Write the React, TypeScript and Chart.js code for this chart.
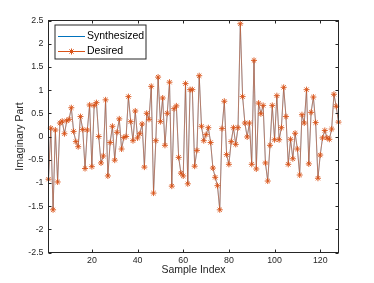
import React, { useEffect, useRef } from "react";
import { Chart, registerables } from "chart.js";

Chart.register(...registerables);

// ---- data ----
const seriesLabels = ["Synthesized", "Desired"];
const xTickValues = [20, 40, 60, 80, 100, 120];
const yTickStep = 0.5;
const xMin = 1;
const xMax = 128;
const yMin = -2.5;
const yMax = 2.5;

const desired = [
  -0.92, 0.18, -1.58, 0.14, -0.98, 0.29, 0.33, 0.06, 0.34, 0.37,
  0.62, 0.11, -0.11, -0.22, 0.43, 0.15, -0.69, 0.14, 0.68, -0.65,
  0.67, 0.73, 0.0, -0.57, -0.42, 0.79, -0.85, -0.13, 0.22, -0.51,
  0.09, 0.38, -0.27, -0.02, 0.0, 0.86, 0.32, -0.09, 0.55, -0.03,
  0.06, 0.27, -0.66, 0.5, 0.37, 1.08, -1.22, -0.09, 1.28, 0.32,
  0.83, -0.19, 0.5, 1.17, -1.07, 0.6, 0.66, -0.45, -0.79, -0.85,
  1.14, -1.02, 1.01, 1.01, -0.64, -0.3, 1.31, 0.22, -0.09, 0.04,
  0.19, -0.13, -0.68, -0.88, -1.06, -1.58, 0.17, 0.76, -0.39, -0.6,
  -0.11, 0.19, -0.17, 0.19, 2.43, 0.86, 0.29, -0.01, 0.29, -0.6,
  1.64, -0.7, 0.72, 0.49, 0.67, -0.57, -0.96, -0.19, 0.67, -0.07,
  0.88, -0.07, 0.19, 1.06, 0.43, -0.6, -0.06, -0.48, 0.07, -0.27,
  -0.83, 0.47, 0.29, 1.01, -0.59, 0.52, 0.85, 0.3, -0.9, -0.4,
  -0.03, 0.13, -0.03, -0.06, 0.16, 0.91, 0.65, 0.31,
];
// the synthesized curve lies exactly under the desired one
const synthesized = [...desired];

const FONT = "'Liberation Sans', Arial, Helvetica, sans-serif";
const AXIS_COLOR = "#262626";
const BLUE = "#0072BD";
const ORANGE = "#D95319";

const toPoints = (vals: number[]) => vals.map((v, i) => ({ x: i + 1, y: v }));

const framePlugin = {
  id: "matlabFrame",
  afterDraw(chart: any) {
    const ctx = chart.ctx as CanvasRenderingContext2D;
    const { left, right, top, bottom } = chart.chartArea;
    const xs = chart.scales.x;
    const ys = chart.scales.y;
    ctx.save();
    ctx.strokeStyle = AXIS_COLOR;
    ctx.lineWidth = 1;
    ctx.strokeRect(left, top, right - left, bottom - top);
    const tl = 3;
    ctx.beginPath();
    for (const t of xs.ticks) {
      const px = Math.round(xs.getPixelForValue(t.value)) + 0.5;
      ctx.moveTo(px, bottom);
      ctx.lineTo(px, bottom - tl);
      ctx.moveTo(px, top);
      ctx.lineTo(px, top + tl);
    }
    for (const t of ys.ticks) {
      const py = Math.round(ys.getPixelForValue(t.value)) + 0.5;
      ctx.moveTo(left, py);
      ctx.lineTo(left + tl, py);
      ctx.moveTo(right, py);
      ctx.lineTo(right - tl, py);
    }
    ctx.stroke();

    // legend box
    const bx = left + 6.5;
    const by = top + 4.5;
    const bw = 91;
    const bh = 34;
    ctx.fillStyle = "#ffffff";
    ctx.fillRect(bx, by, bw, bh);
    ctx.strokeStyle = AXIS_COLOR;
    ctx.lineWidth = 1;
    ctx.strokeRect(bx, by, bw, bh);
    const rows = [by + 11, by + 26];
    chart.data.datasets.forEach((ds: any, i: number) => {
      const y = Math.round(rows[i]) + 0.5;
      ctx.strokeStyle = ds.borderColor;
      ctx.lineWidth = 1;
      ctx.beginPath();
      ctx.moveTo(bx + 3, y);
      ctx.lineTo(bx + 30, y);
      ctx.stroke();
      if (ds.pointRadius > 0) {
        const cx = bx + 16.5;
        const r = ds.pointRadius;
        ctx.beginPath();
        for (let k = 0; k < 4; k++) {
          const a = (k * Math.PI) / 4;
          ctx.moveTo(cx - r * Math.cos(a), y - r * Math.sin(a));
          ctx.lineTo(cx + r * Math.cos(a), y + r * Math.sin(a));
        }
        ctx.stroke();
      }
      ctx.fillStyle = "#000000";
      ctx.font = `10.5px ${FONT}`;
      ctx.textBaseline = "middle";
      ctx.textAlign = "left";
      ctx.fillText(ds.label, bx + 32, y);
    });
    ctx.restore();
  },
};

export default function App() {
  const ref = useRef<HTMLCanvasElement | null>(null);
  useEffect(() => {
    if (!ref.current) return;
    const chart = new Chart(ref.current, {
      type: "line",
      data: {
        datasets: [
          {
            label: seriesLabels[0],
            data: toPoints(synthesized),
            borderColor: BLUE,
            backgroundColor: BLUE,
            borderWidth: 0.5,
            pointRadius: 0,
            tension: 0,
            order: 1,
            clip: 6,
          },
          {
            label: seriesLabels[1],
            data: toPoints(desired),
            borderColor: ORANGE,
            backgroundColor: ORANGE,
            borderWidth: 0.6,
            pointStyle: "star",
            pointRadius: 3,
            pointBorderWidth: 0.9,
            pointBorderColor: ORANGE,
            tension: 0,
            order: 0,
            clip: 6,
          },
        ],
      },
      options: {
        responsive: false,
        devicePixelRatio: 1,
        animation: false,
        events: [],
        layout: { padding: { left: 0, right: 35.5, top: 20.5, bottom: 0 } },
        plugins: { legend: { display: false }, tooltip: { enabled: false } },
        scales: {
          x: {
            type: "linear",
            min: xMin,
            max: xMax,
            grid: { display: false, drawTicks: false },
            border: { display: false },
            afterBuildTicks: (s: any) => {
              s.ticks = xTickValues.map((v) => ({ value: v }));
            },
            afterFit: (s: any) => {
              s.height = 30.5;
            },
            ticks: {
              color: AXIS_COLOR,
              padding: 3,
              maxRotation: 0,
              autoSkip: false,
              font: { family: FONT, size: 8.8 },
            },
            title: {
              display: true,
              text: "Sample Index",
              color: AXIS_COLOR,
              font: { family: FONT, size: 10.5 },
              padding: { top: 0, bottom: 6.7 },
            },
          },
          y: {
            type: "linear",
            min: yMin,
            max: yMax,
            grid: { display: false, drawTicks: false },
            border: { display: false },
            afterFit: (s: any) => {
              s.width = 48.5;
            },
            ticks: {
              stepSize: yTickStep,
              color: AXIS_COLOR,
              padding: 5,
              font: { family: FONT, size: 8.8 },
              callback: (v: any) => String(Number(Number(v).toFixed(2))),
            },
            title: {
              display: true,
              text: "Imaginary Part",
              color: AXIS_COLOR,
              font: { family: FONT, size: 10.5 },
              padding: { top: 13.7, bottom: 0 },
            },
          },
        },
      },
      plugins: [framePlugin],
    });
    return () => chart.destroy();
  }, []);

  return (
    <div style={{ position: "fixed", left: 0, top: 0, width: 374, height: 283, background: "#fff" }}>
      <canvas ref={ref} width={374} height={283} style={{ display: "block" }} />
    </div>
  );
}
